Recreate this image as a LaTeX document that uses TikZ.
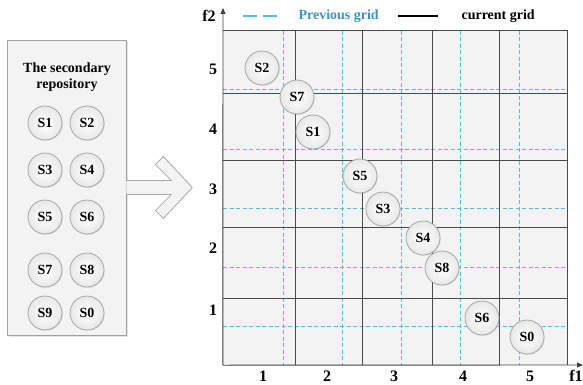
\documentclass[tikz,border=0pt]{standalone}
\usepackage{fontspec}
\setmainfont{Liberation Serif}
\usetikzlibrary{arrows.meta,positioning,calc,shadows}
\definecolor{prevblue}{HTML}{4CC0DA}
\definecolor{prevtext}{HTML}{3A92CB}
\definecolor{panelgray}{HTML}{F3F3F3}
\definecolor{curline}{HTML}{4A4A4A}
\tikzset{
  sol/.style    = {circle, draw=gray!75, line width=0.7pt, minimum size=34pt,
                   inner sep=0pt, inner color=white, outer color=gray!18,
                   font=\fontsize{14}{14}\selectfont\bfseries,
                   drop shadow={opacity=0.18, shadow xshift=0.8pt, shadow yshift=-0.8pt}},
  repobox/.style = {draw=gray!75, line width=0.7pt, fill=panelgray,
                   drop shadow={opacity=0.2, shadow xshift=1.5pt, shadow yshift=-1.5pt}},
  ttl/.style    = {font=\fontsize{14}{16}\selectfont\bfseries, align=center},
  tick/.style   = {font=\fontsize{16}{16}\selectfont\bfseries, inner sep=0pt},
  cur/.style    = {draw=curline, line width=0.6pt},
  prev/.style   = {draw=prevblue, line width=0.7pt, dash pattern=on 4pt off 2.5pt},
  axis/.style   = {draw=black!75, line width=0.9pt, -{Triangle[length=6pt,width=5pt]}},
  blkarrow/.style = {draw=gray!70, line width=0.8pt, fill=panelgray, line join=round}
}

\begin{document}
\begin{tikzpicture}[x=1pt, y=-1pt]
\useasboundingbox (0,0) rectangle (583,385);

% ---------- repository panel (left) ----------
\node[repobox, minimum width=119pt, minimum height=295pt] (repo) at (66.5,187.5) {};
\node[ttl] (reptitle) at (67,77) {The secondary\\repository};

\foreach \n/\x/\y in {1/45/123, 2/87/123, 3/45/170, 4/87/170, 5/45/217,
                      6/87/217, 7/45/270, 8/87/270, 9/45/313, 0/87/313} {
  \node[sol] (r\n) at (\x,\y) {S\n};
}

% ---------- hollow block arrow ----------
\begin{scope}[shift={(repo.east)}]
  \draw[blkarrow] (0,-7) -- (45,-7) -- (29,-23) -- (37,-31) -- (66,0)
        -- (37,31) -- (29,23) -- (45,7) -- (0,7);
\end{scope}

% ---------- objective plane ----------
\node[fill=panelgray, minimum width=344pt, minimum height=334pt, inner sep=0pt]
      (plane) at (395,198) {};

% previous grid (dashed)
\foreach \x in {283,342,401,460,519} { \draw[prev] (\x,31) -- (\x,365); }
\foreach \y in {89,149,208,267,326}  { \draw[prev] (223,\y) -- (567,\y); }

% current grid (solid)
\foreach \x in {295,362,432,499} { \draw[cur] (\x,31) -- (\x,365); }
\foreach \y in {93,160,227,298}  { \draw[cur] (223,\y) -- (567,\y); }
\draw[cur] (plane.south east) -- (plane.north east) -- (plane.north west);

% axes
\coordinate (f1end) at (583,365);
\coordinate (f2end) at (223,8);
\draw[axis] (plane.south west) -- (f1end);
\draw[axis] (plane.south west) -- (f2end);
\node[tick] (f1) at (576,376) {f1};
\node[tick] (f2) at (209,16) {f2};

\foreach \v/\y in {5/69, 4/129, 3/189, 2/248, 1/310} {
  \node[tick] (yl\v) at (213,\y) {\v};
}
\foreach \v/\x in {1/263, 2/327, 3/394, 4/463, 5/530} {
  \node[tick] (xl\v) at (\x,376) {\v};
}

% legend
\coordinate (lgA) at (243,16);
\coordinate (lgB) at (279,16);
\coordinate (lgC) at (398,16);
\coordinate (lgD) at (438,16);
\draw[prevblue, line width=1.3pt, dash pattern=on 14pt off 6pt] (lgA) -- (lgB);
\node[ttl, text=prevtext, anchor=west] (lgprev) at (295,16) {Previous grid};
\draw[black, line width=1.1pt] (lgC) -- (lgD);
\node[ttl, anchor=west] (lgcur) at (458,16) {current grid};

% solutions placed on the plane
\foreach \n/\x/\y in {2/262/68, 7/297/97, 1/313/132, 5/360/176, 3/383/209,
                      4/423/238, 8/442/268, 6/482/318, 0/527/337} {
  \node[sol] (g\n) at (\x,\y) {S\n};
}

\end{tikzpicture}
\end{document}
